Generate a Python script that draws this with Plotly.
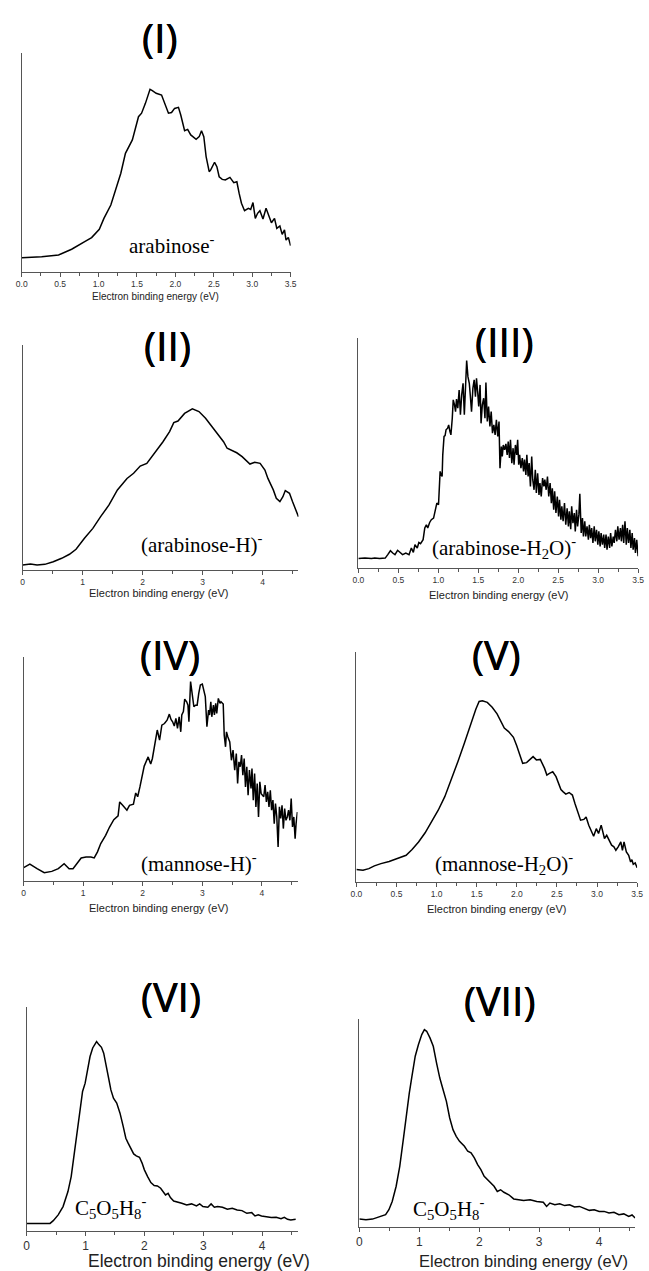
import plotly.graph_objects as go

W, H = 649, 1271

# ---------------- data (electron binding energy in eV, intensity in arb. units, 100 = top of y axis)
I_x = [0.00,0.26,0.48,0.65,0.82,0.91,1.01,1.07,1.16,1.24,1.29,1.35,1.44,1.52,1.56,1.61,1.67,1.70,1.75,1.82,
       1.88,1.91,1.95,1.99,2.04,2.07,2.12,2.16,2.20,2.27,2.31,2.34,2.37,2.40,2.44,2.46,2.51,2.54,2.57,2.61,
       2.65,2.71,2.76,2.80,2.83,2.86,2.90,2.95,2.98,3.00,3.01,3.04,3.07,3.10,3.14,3.18,3.22,3.25,3.29,3.32,
       3.36,3.39,3.42,3.44,3.47,3.48,3.50]
I_y = [6.5,7.0,7.8,10.4,13.9,15.7,19.5,24.5,30.6,39.0,45.1,54.2,60.3,70.9,72.5,77.0,83.4,82.8,81.6,80.8,
       75.8,72.5,72.8,74.7,75.2,71.7,64.5,65.1,62.6,60.6,61.8,64.5,61.8,52.7,45.8,46.6,50.1,48.1,43.5,42.3,
       42.0,43.2,40.8,41.2,35.9,31.4,28.0,29.1,28.6,31.4,31.7,24.5,26.8,28.0,24.2,29.1,25.3,22.5,24.5,19.9,
       21.0,17.2,19.2,14.6,15.8,13.9,12.0]

II_x = [0,0.13,0.24,0.37,0.51,0.65,0.78,0.89,1.03,1.17,1.30,1.44,1.58,1.74,1.85,1.96,2.07,2.18,2.34,2.45,
        2.52,2.59,2.70,2.83,2.94,3.05,3.16,3.27,3.35,3.41,3.49,3.57,3.66,3.74,3.79,3.87,3.96,4.04,4.09,4.18,
        4.23,4.29,4.34,4.38,4.45,4.50,4.56,4.60]
II_y = [2.2,2.7,2.2,2.5,3.7,5.2,7.0,9.2,14.1,18.5,23.7,28.9,35.6,40.7,43.0,46.2,47.4,51.1,57.0,61.5,
        65.5,66.2,69.6,71.6,70.4,67.4,63.7,60.0,57.0,54.1,53.0,52.1,50.4,48.1,47.1,47.9,47.4,44.4,40.7,35.6,
        31.9,30.4,32.6,35.3,34.1,30.4,25.9,23.7]

III_x = [0.000,0.082,0.164,0.205,0.266,0.336,0.368,0.401,0.430,0.458,0.491,0.524,0.553,0.594,0.634,0.663,0.688,0.708,0.737,0.757,
         0.778,0.810,0.831,0.851,0.868,0.892,0.913,0.941,0.962,0.982,1.003,1.015,1.023,1.036,1.048,1.056,1.072,1.085,1.097,1.117,
         1.130,1.146,1.158,1.175,1.187,1.203,1.216,1.228,1.244,1.261,1.277,1.293,1.310,1.326,1.343,1.355,1.371,1.388,1.400,1.416,
         1.433,1.449,1.465,1.478,1.494,1.506,1.523,1.535,1.551,1.568,1.584,1.596,1.613,1.629,1.646,1.662,1.678,1.695,1.711,1.727,
         1.744,1.760,1.772,1.789,1.801,1.813,1.830,1.846,1.862,1.875,1.891,1.903,1.920,1.936,1.948,1.965,1.981,1.993,2.006,2.018,
         2.034,2.051,2.067,2.079,2.096,2.108,2.124,2.137,2.153,2.169,2.182,2.198,2.214,2.227,2.243,2.260,2.272,2.288,2.305,2.321,
         2.333,2.350,2.366,2.382,2.399,2.415,2.427,2.444,2.456,2.472,2.489,2.505,2.517,2.534,2.546,2.562,2.579,2.595,2.612,2.628,
         2.640,2.657,2.669,2.685,2.702,2.714,2.730,2.743,2.759,2.771,2.788,2.804,2.816,2.833,2.845,2.861,2.878,2.890,2.906,2.919,
         2.935,2.951,2.964,2.980,2.996,3.009,3.025,3.037,3.054,3.070,3.082,3.099,3.111,3.127,3.144,3.156,3.172,3.189,3.201,3.217,
         3.234,3.246,3.262,3.279,3.291,3.307,3.320,3.336,3.352,3.365,3.381,3.397,3.410,3.426,3.438,3.455,3.467,3.483,3.500]
III_y = [4.1,4.3,4.1,4.3,4.1,4.3,5.8,7.5,6.5,5.8,7.7,6.5,5.8,6.5,5.8,8.7,6.8,10.1,8.7,11.1,
         10.6,12.3,17.4,18.8,17.4,19.8,21.0,21.7,25.3,28.2,27.5,34.7,42.0,40.5,39.8,49.2,57.2,57.6,60.1,60.8,
         62.2,59.3,57.9,65.1,73.1,70.9,68.0,73.4,69.5,77.4,66.6,75.3,80.3,66.6,81.8,90.2,83.2,80.3,75.3,68.0,
         78.1,81.8,74.5,82.5,76.0,70.2,79.6,62.9,70.9,73.8,65.1,80.6,63.7,70.2,61.5,68.0,58.6,62.2,57.9,64.4,
         57.2,63.7,43.4,52.8,48.5,53.5,51.4,54.0,49.2,55.0,47.8,55.7,45.6,52.1,44.9,53.5,49.2,55.7,44.9,49.2,
         43.4,47.8,42.0,47.1,40.5,49.2,39.8,45.6,35.5,48.5,38.4,34.0,42.7,32.6,41.2,31.8,36.9,31.1,39.1,35.5,
         38.4,34.0,39.8,31.1,36.9,28.2,34.7,25.3,33.3,23.9,31.1,22.4,29.7,21.0,26.8,20.3,28.2,18.8,26.0,18.1,
         24.6,16.9,26.8,19.5,23.9,15.9,25.3,18.1,23.2,32.3,15.2,21.7,13.7,20.3,13.7,18.1,12.3,18.8,13.0,17.4,
         10.9,18.1,11.6,16.6,10.1,15.9,9.4,15.2,10.1,14.5,8.7,14.5,8.0,13.7,8.7,15.2,9.4,13.7,10.9,16.6,
         11.6,18.1,12.3,17.4,11.6,18.8,10.9,20.3,10.1,17.4,10.9,16.6,8.7,15.2,8.0,13.0,6.5,12.3,5.1]

IV_x = [0.000,0.104,0.225,0.346,0.472,0.582,0.680,0.763,0.829,0.894,0.966,1.048,1.130,1.185,1.240,1.295,1.377,1.443,1.514,1.586,
        1.613,1.663,1.734,1.778,1.844,1.882,1.915,1.953,1.997,2.025,2.091,2.134,2.162,2.211,2.244,2.283,2.321,2.365,2.409,2.447,
        2.475,2.502,2.530,2.557,2.584,2.612,2.639,2.656,2.683,2.705,2.738,2.760,2.776,2.804,2.831,2.859,2.886,2.914,2.941,2.968,
        3.001,3.023,3.051,3.078,3.106,3.122,3.144,3.160,3.188,3.204,3.226,3.243,3.270,3.298,3.314,3.352,3.369,3.391,3.407,3.429,
        3.462,3.490,3.517,3.545,3.572,3.594,3.616,3.638,3.660,3.682,3.704,3.726,3.748,3.770,3.792,3.819,3.835,3.857,3.879,3.901,
        3.923,3.945,3.967,3.989,4.011,4.033,4.055,4.077,4.099,4.121,4.143,4.165,4.187,4.209,4.230,4.252,4.274,4.296,4.318,4.340,
        4.362,4.384,4.406,4.428,4.450,4.472,4.494,4.516,4.538,4.560,4.576,4.598]
IV_y = [6.0,7.5,5.5,3.7,4.3,5.5,7.7,5.5,5.5,7.7,10.3,10.7,10.7,10.3,13.0,16.7,20.4,24.1,27.4,29.1,
        35.3,33.8,31.6,33.8,34.3,39.3,37.6,42.0,47.2,51.3,55.4,52.2,54.7,62.9,67.4,62.9,69.6,70.3,71.8,74.5,
        72.1,71.1,69.2,72.6,68.1,73.3,66.6,74.1,75.6,81.2,80.0,78.5,71.1,89.0,83.8,77.8,78.5,78.5,83.8,87.5,
        87.9,85.2,82.3,68.9,76.3,74.1,80.0,73.3,78.5,74.1,79.3,74.8,81.5,79.3,80.0,79.0,65.1,59.9,66.6,64.4,
        62.1,53.9,58.4,49.5,56.9,43.5,53.2,51.0,56.2,47.2,54.7,42.0,51.0,38.3,49.5,41.3,50.2,36.1,48.0,33.1,
        43.5,28.6,44.3,39.0,38.3,37.6,42.8,35.3,39.8,33.1,40.5,31.6,36.1,25.6,34.6,28.6,15.2,33.1,27.9,33.8,
        23.4,32.3,27.1,28.6,31.6,27.1,36.8,24.1,28.6,18.9,25.6,30.8]

V_x = [0.000,0.082,0.155,0.224,0.306,0.408,0.510,0.620,0.694,0.775,0.857,0.938,1.020,1.102,1.183,1.265,1.346,1.428,1.489,1.530,
       1.571,1.632,1.693,1.754,1.816,1.844,1.897,1.958,1.999,2.040,2.073,2.122,2.162,2.203,2.244,2.293,2.346,2.375,2.407,2.448,
       2.489,2.521,2.550,2.579,2.611,2.652,2.693,2.725,2.754,2.795,2.836,2.864,2.897,2.929,2.958,2.991,3.019,3.052,3.068,3.093,
       3.121,3.150,3.182,3.211,3.235,3.264,3.297,3.317,3.337,3.366,3.395,3.419,3.435,3.452,3.476,3.500]
V_y = [5.4,5.1,5.8,7.0,8.0,8.9,10.2,11.6,14.1,17.4,21.4,26.2,31.2,37.1,44.3,52.3,60.3,69.0,75.1,78.5,
       78.8,78.1,76.0,73.1,68.8,66.9,65.4,62.9,59.2,55.2,51.6,51.9,53.3,54.5,53.1,53.3,49.4,46.5,47.2,47.9,
       45.8,43.2,40.2,39.2,38.2,38.9,37.8,34.1,30.9,26.9,27.2,28.3,24.7,22.5,19.9,23.2,21.1,24.7,22.5,18.9,
       20.3,17.9,16.0,15.3,13.8,15.3,17.4,13.8,17.4,13.1,11.6,8.7,9.7,7.7,8.3,6.2]

VI_x = [0.000,0.204,0.398,0.453,0.536,0.619,0.702,0.757,0.812,0.867,0.912,0.950,0.994,1.033,1.077,1.122,1.155,1.188,1.227,1.271,
        1.309,1.354,1.392,1.431,1.475,1.530,1.586,1.641,1.685,1.724,1.768,1.818,1.862,1.917,1.961,2.000,2.055,2.110,2.166,2.221,
        2.276,2.315,2.359,2.403,2.442,2.497,2.552,2.635,2.718,2.801,2.884,2.939,2.994,3.077,3.133,3.188,3.243,3.326,3.409,3.492,
        3.575,3.657,3.740,3.823,3.878,3.934,3.989,4.072,4.155,4.238,4.320,4.376,4.431,4.486,4.569]
VI_y = [3.4,3.4,3.4,4.6,7.2,10.9,17.6,24.3,34.7,45.2,54.1,62.3,66.0,72.0,77.9,81.7,83.5,84.6,83.2,82.0,
        79.4,74.2,68.3,63.0,59.3,57.1,52.6,46.6,41.4,39.2,37.0,34.4,33.5,32.9,30.3,27.3,24.3,21.6,20.3,20.1,
        19.1,17.9,16.1,16.8,14.9,13.4,13.1,12.4,11.6,12.1,11.2,12.1,10.9,10.6,12.1,10.6,10.9,10.6,9.7,10.1,
        9.4,9.1,7.9,8.2,6.7,7.2,6.7,6.4,6.0,6.1,5.5,6.1,5.2,4.9,5.2]

VII_x = [0.000,0.110,0.219,0.301,0.384,0.438,0.493,0.548,0.614,0.674,0.740,0.795,0.833,0.877,0.932,0.986,1.041,1.085,1.123,1.178,
         1.233,1.288,1.342,1.397,1.452,1.507,1.562,1.616,1.671,1.753,1.808,1.863,1.918,1.973,2.027,2.082,2.137,2.192,2.247,2.301,
         2.356,2.411,2.493,2.575,2.658,2.740,2.849,2.959,3.068,3.123,3.178,3.260,3.342,3.425,3.507,3.589,3.671,3.753,3.836,3.918,
         4.000,4.082,4.164,4.247,4.329,4.411,4.493,4.548,4.600]
VII_y = [3.8,3.5,3.8,4.6,5.1,5.9,8.3,12.3,19.6,29.2,43.6,56.4,64.4,72.4,82.1,87.7,92.5,94.9,94.1,90.9,
         86.9,78.8,71.6,66.0,60.4,52.4,46.8,43.6,41.2,38.8,36.4,35.6,33.2,30.0,27.6,24.4,22.8,21.2,19.6,17.1,
         17.9,16.7,15.5,13.5,13.1,12.8,13.1,12.3,11.9,9.9,11.5,10.7,11.2,10.3,10.7,9.6,9.9,9.1,8.0,8.3,
         7.5,7.5,6.7,7.1,5.9,6.3,5.1,5.8,4.3]

panel_labels = ["(I)", "(II)", "(III)", "(IV)", "(V)", "(VI)", "(VII)"]
species = ["arabinose<sup>-</sup>", "(arabinose-H)<sup>-</sup>", "(arabinose-H<sub>2</sub>O)<sup>-</sup>",
           "(mannose-H)<sup>-</sup>", "(mannose-H<sub>2</sub>O)<sup>-</sup>",
           "C<sub>5</sub>O<sub>5</sub>H<sub>8</sub><sup>-</sup>", "C<sub>5</sub>O<sub>5</sub>H<sub>8</sub><sup>-</sup>"]
xlabel = "Electron binding energy (eV)"
series = [(I_x, I_y), (II_x, II_y), (III_x, III_y), (IV_x, IV_y), (V_x, V_y), (VI_x, VI_y), (VII_x, VII_y)]
xmax = [3.5, 4.6, 3.5, 4.6, 3.5, 4.6, 4.6]

# ---------------- layout (pixel geometry)
# plot box: left, right, top, bottom (px)
boxes = [(16, 290, 53, 272), (17, 298, 345, 570), (359, 644, 338, 568),
         (18, 297, 657, 881), (357, 643, 652, 882), (21, 297, 1007, 1231), (360, 641, 1019, 1227)]
title_pos = [(157, 37), (165, 345), (508, 341), (167, 654), (500, 654), (168, 996), (503, 1000)]
species_pos = [(169, 245), (200, 543), (507, 547), (197, 862), (507, 863), (106, 1207), (451, 1208)]
xlabel_pos = [(152, 297), (155, 593), (502, 595), (155, 908), (500, 909), (197, 1261), (527, 1261)]
xlabel_size = [10, 11, 11, 11, 11, 17.5, 16.5]
tick_size = [8.5, 8.5, 8.5, 8.5, 8.5, 12, 12]

AX = "#555555"

def px(x):
    return x / W

def py(y):
    return 1 - y / H

fig = go.Figure()
annotations = []
for i in range(7):
    n = "" if i == 0 else str(i + 1)
    xs, ys = series[i]
    fig.add_trace(go.Scatter(x=xs, y=ys, mode="lines", line=dict(color="black", width=1.5),
                             xaxis="x" + n, yaxis="y" + n, showlegend=False, hoverinfo="skip"))
    l, r, t, b = boxes[i]
    half = xmax[i] < 4
    fig.layout["xaxis" + n] = dict(
        domain=[px(l), px(r)], anchor="y" + n, range=[0, xmax[i]],
        showline=True, linecolor=AX, linewidth=1, showgrid=False, zeroline=False,
        ticks="outside", ticklen=4, tickwidth=1, tickcolor=AX,
        dtick=0.5 if half else 1, tick0=0, tickformat=".1f" if half else "d",
        tickfont=dict(family="Liberation Sans, Arial", size=tick_size[i], color="#333333"),
        minor=dict(ticks="outside", ticklen=2.5, tickwidth=1, tickcolor=AX, dtick=0.25 if half else 0.5, tick0=0),
        fixedrange=True)
    fig.layout["yaxis" + n] = dict(
        domain=[py(b), py(t)], anchor="x" + n, range=[0, 100],
        showline=True, linecolor=AX, linewidth=1, showgrid=False, zeroline=False,
        ticks="", showticklabels=False, fixedrange=True)
    tx, ty = title_pos[i]
    annotations.append(dict(text=panel_labels[i], x=px(tx), y=py(ty), xref="paper", yref="paper",
                            showarrow=False, xanchor="center", yanchor="middle",
                            font=dict(family="Open Sans", size=41, color="black",
                                      shadow="0.3px 0 0 #000, -0.3px 0 0 #000")))
    sx, sy = species_pos[i]
    annotations.append(dict(text=species[i], x=px(sx), y=py(sy), xref="paper", yref="paper",
                            showarrow=False, xanchor="center", yanchor="middle",
                            font=dict(family="Liberation Serif, Times New Roman", size=21, color="black")))
    lx, ly = xlabel_pos[i]
    annotations.append(dict(text=xlabel, x=px(lx), y=py(ly), xref="paper", yref="paper",
                            showarrow=False, xanchor="center", yanchor="middle",
                            font=dict(family="Liberation Sans, Arial", size=xlabel_size[i], color="#222222")))

fig.update_layout(width=W, height=H, margin=dict(l=0, r=0, t=0, b=0),
                  paper_bgcolor="white", plot_bgcolor="white", annotations=annotations)

fig.write_html("out.html", config={"displayModeBar": False})
